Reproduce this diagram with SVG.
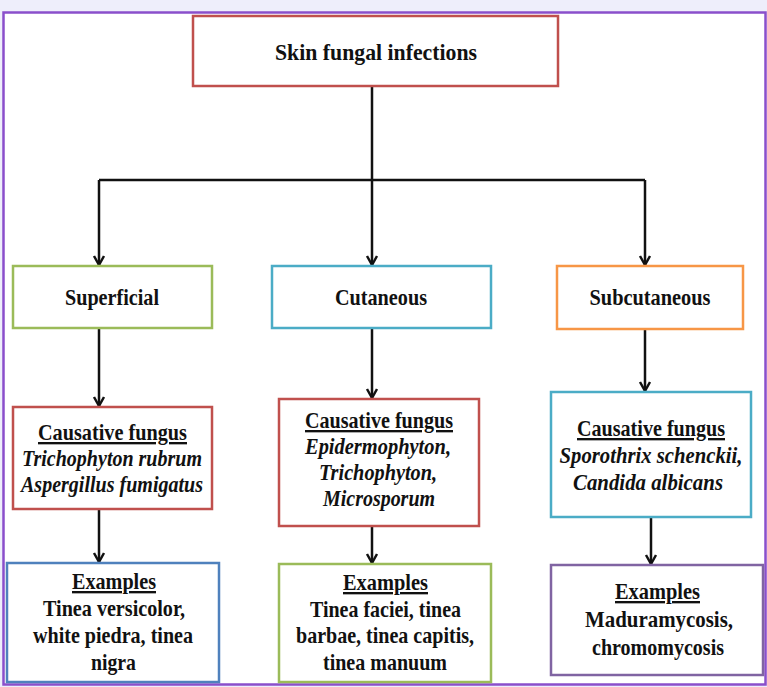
<svg xmlns="http://www.w3.org/2000/svg" width="767" height="687" viewBox="0 0 767 687">
<style>
.t{font-family:"Liberation Serif","Times New Roman",serif;font-size:23.5px;font-weight:bold;fill:#111;text-anchor:middle}
.i{font-style:italic}
.u{text-decoration:underline}
.box{fill:#fff;stroke-width:2.5}
.ln{fill:none;stroke:#111;stroke-width:2.5}
.arr{marker-end:url(#ah)}
</style>
<defs>
<marker id="ah" markerUnits="userSpaceOnUse" markerWidth="20" markerHeight="20" refX="0" refY="0" orient="auto" overflow="visible">
<path d="M-9,-5 L0,0 L-9,5" fill="none" stroke="#111" stroke-width="2.5" stroke-linejoin="miter"/>
</marker>
</defs>
<rect x="0" y="0" width="767" height="687" fill="#EEEEFB"/>
<rect x="3.5" y="12.5" width="762" height="672" fill="#fff" stroke="#8A4FCB" stroke-width="2.5"/>
<g id="connectors">
<path class="ln" d="M372,86 V180 M99,180 H645"/>
<path class="ln arr" d="M99,180 V265"/>
<path class="ln arr" d="M372,180 V265"/>
<path class="ln arr" d="M645,180 V265"/>
<path class="ln arr" d="M99,328 V406"/>
<path class="ln arr" d="M372,328 V398"/>
<path class="ln arr" d="M645,329 V391"/>
<path class="ln arr" d="M99,509 V562"/>
<path class="ln arr" d="M372,526 V563"/>
<path class="ln arr" d="M651,517 V564"/>
</g>
<g id="root">
<rect class="box" x="193" y="16" width="365" height="70" stroke="#C0504D"/>
<text class="t" x="376" y="60" textLength="202" lengthAdjust="spacingAndGlyphs">Skin fungal infections</text>
</g>
<g id="superficial">
<rect class="box" x="13" y="266" width="199" height="62" stroke="#9BBB59"/>
<text class="t" x="112" y="305" textLength="94" lengthAdjust="spacingAndGlyphs">Superficial</text>
</g>
<g id="cutaneous">
<rect class="box" x="272" y="266" width="219" height="62" stroke="#4BACC6"/>
<text class="t" x="381" y="305" textLength="92" lengthAdjust="spacingAndGlyphs">Cutaneous</text>
</g>
<g id="subcutaneous">
<rect class="box" x="557" y="266" width="186" height="63" stroke="#F79646"/>
<text class="t" x="650" y="305" textLength="121" lengthAdjust="spacingAndGlyphs">Subcutaneous</text>
</g>
<g id="causative-superficial">
<rect class="box" x="13" y="407" width="199" height="102" stroke="#C0504D"/>
<text class="t u" x="112.5" y="440" textLength="149" lengthAdjust="spacingAndGlyphs">Causative fungus</text>
<text class="t i" x="112" y="466" textLength="180" lengthAdjust="spacingAndGlyphs">Trichophyton rubrum</text>
<text class="t i" x="112" y="492" textLength="182" lengthAdjust="spacingAndGlyphs">Aspergillus fumigatus</text>
</g>
<g id="causative-cutaneous">
<rect class="box" x="279" y="399" width="200" height="127" stroke="#C0504D"/>
<text class="t u" x="379" y="428" textLength="148" lengthAdjust="spacingAndGlyphs">Causative fungus</text>
<text class="t i" x="378" y="454" textLength="146" lengthAdjust="spacingAndGlyphs">Epidermophyton,</text>
<text class="t i" x="378" y="480" textLength="118" lengthAdjust="spacingAndGlyphs">Trichophyton,</text>
<text class="t i" x="379" y="506" textLength="112" lengthAdjust="spacingAndGlyphs">Microsporum</text>
</g>
<g id="causative-subcutaneous">
<rect class="box" x="551" y="392" width="200" height="125" stroke="#4BACC6"/>
<text class="t u" x="651" y="436" textLength="148" lengthAdjust="spacingAndGlyphs">Causative fungus</text>
<text class="t i" x="651" y="463" textLength="183" lengthAdjust="spacingAndGlyphs">Sporothrix schenckii,</text>
<text class="t i" x="648" y="490" textLength="150" lengthAdjust="spacingAndGlyphs">Candida albicans</text>
</g>
<g id="examples-superficial">
<rect class="box" x="7" y="563" width="212" height="119" stroke="#4F81BD"/>
<text class="t u" x="114" y="589" textLength="84" lengthAdjust="spacingAndGlyphs">Examples</text>
<text class="t" x="114" y="616" textLength="142" lengthAdjust="spacingAndGlyphs">Tinea versicolor,</text>
<text class="t" x="113" y="643" textLength="160" lengthAdjust="spacingAndGlyphs">white piedra, tinea</text>
<text class="t" x="113.5" y="670" textLength="45" lengthAdjust="spacingAndGlyphs">nigra</text>
</g>
<g id="examples-cutaneous">
<rect class="box" x="279" y="564" width="212" height="118" stroke="#9BBB59"/>
<text class="t u" x="385.5" y="590" textLength="85" lengthAdjust="spacingAndGlyphs">Examples</text>
<text class="t" x="385.5" y="617" textLength="151" lengthAdjust="spacingAndGlyphs">Tinea faciei, tinea</text>
<text class="t" x="385" y="643" textLength="178" lengthAdjust="spacingAndGlyphs">barbae, tinea capitis,</text>
<text class="t" x="385" y="670" textLength="124" lengthAdjust="spacingAndGlyphs">tinea manuum</text>
</g>
<g id="examples-subcutaneous">
<rect class="box" x="551" y="565" width="212" height="110" stroke="#8064A2"/>
<text class="t u" x="657.5" y="599" textLength="85" lengthAdjust="spacingAndGlyphs">Examples</text>
<text class="t" x="659" y="627" textLength="148" lengthAdjust="spacingAndGlyphs">Maduramycosis,</text>
<text class="t" x="658" y="655" textLength="132" lengthAdjust="spacingAndGlyphs">chromomycosis</text>
</g>
</svg>
